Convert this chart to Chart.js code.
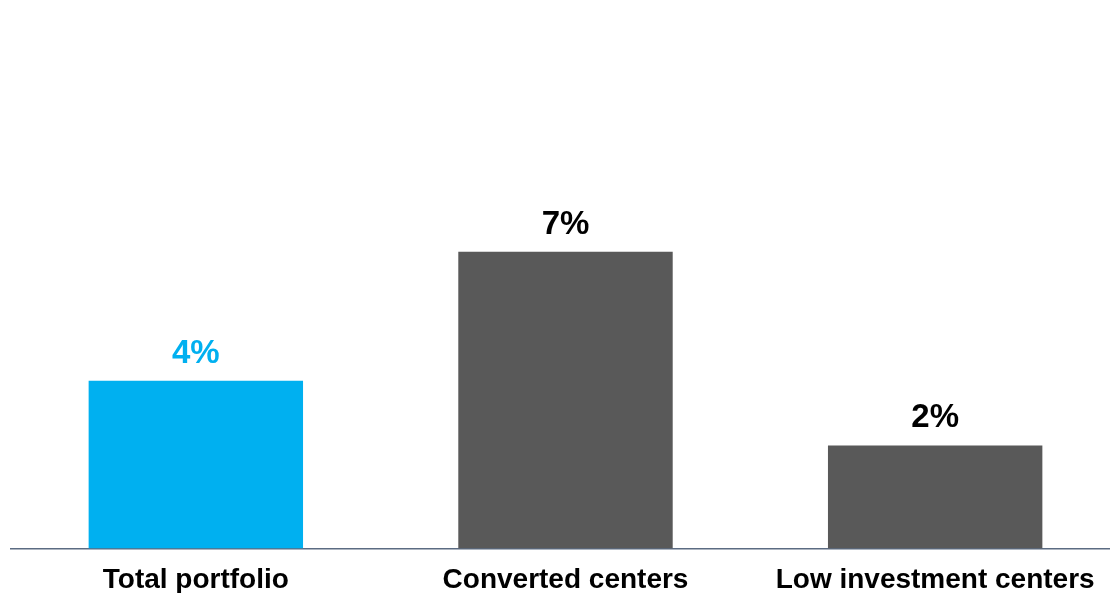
<!DOCTYPE html>
<html>
<head>
<meta charset="utf-8">
<script src="https://cdn.jsdelivr.net/npm/chart.js@4"></script>
<style>
    html, body { margin: 0; padding: 0; background: #fff; overflow: hidden; }
    #wrap { position: relative; width: 1120px; height: 612px; }
</style>
</head>
<body>
<div id="wrap"><canvas id="barChart"></canvas></div>
<script>
// Chart data
const categories = ['Total portfolio', 'Converted centers', 'Low investment centers'];
const values = [3.96, 7.0, 2.43];
const valueLabels = ['4%', '7%', '2%'];
const barColors = ['#00b0f0', '#595959', '#595959'];
const labelColors = ['#00b0f0', '#000000', '#000000'];

// Value labels above each bar
const barLabels = {
    id: 'barLabels',
    afterDatasetsDraw(chart) {
        const ctx = chart.ctx;
        const meta = chart.getDatasetMeta(0);
        ctx.save();
        ctx.font = 'bold 33px "Liberation Sans", Arial, sans-serif';
        ctx.textAlign = 'center';
        ctx.textBaseline = 'alphabetic';
        meta.data.forEach((bar, i) => {
            ctx.fillStyle = labelColors[i];
            ctx.fillText(valueLabels[i], bar.x, bar.y - 18);
        });
        ctx.restore();
    }
};

new Chart(document.getElementById('barChart'), {
    type: 'bar',
    data: {
        labels: categories,
        datasets: [{
            data: values,
            backgroundColor: barColors,
            borderWidth: 0,
            barPercentage: 0.58,
            categoryPercentage: 1.0
        }]
    },
    options: {
        responsive: true,
        maintainAspectRatio: false,
        animation: false,
        layout: { padding: { left: 11, right: 0, top: 40, bottom: 0 } },
        plugins: {
            legend: { display: false },
            tooltip: { enabled: false }
        },
        scales: {
            x: {
                grid: { display: false, drawTicks: false },
                border: { display: true, color: '#5b6b82', width: 1.5 },
                ticks: {
                    color: '#000',
                    padding: 15,
                    font: { family: '"Liberation Sans", Arial, sans-serif', size: 28, weight: 'bold' }
                }
            },
            y: {
                display: false,
                min: 0,
                max: 12
            }
        }
    },
    plugins: [barLabels]
});
</script>
</body>
</html>
